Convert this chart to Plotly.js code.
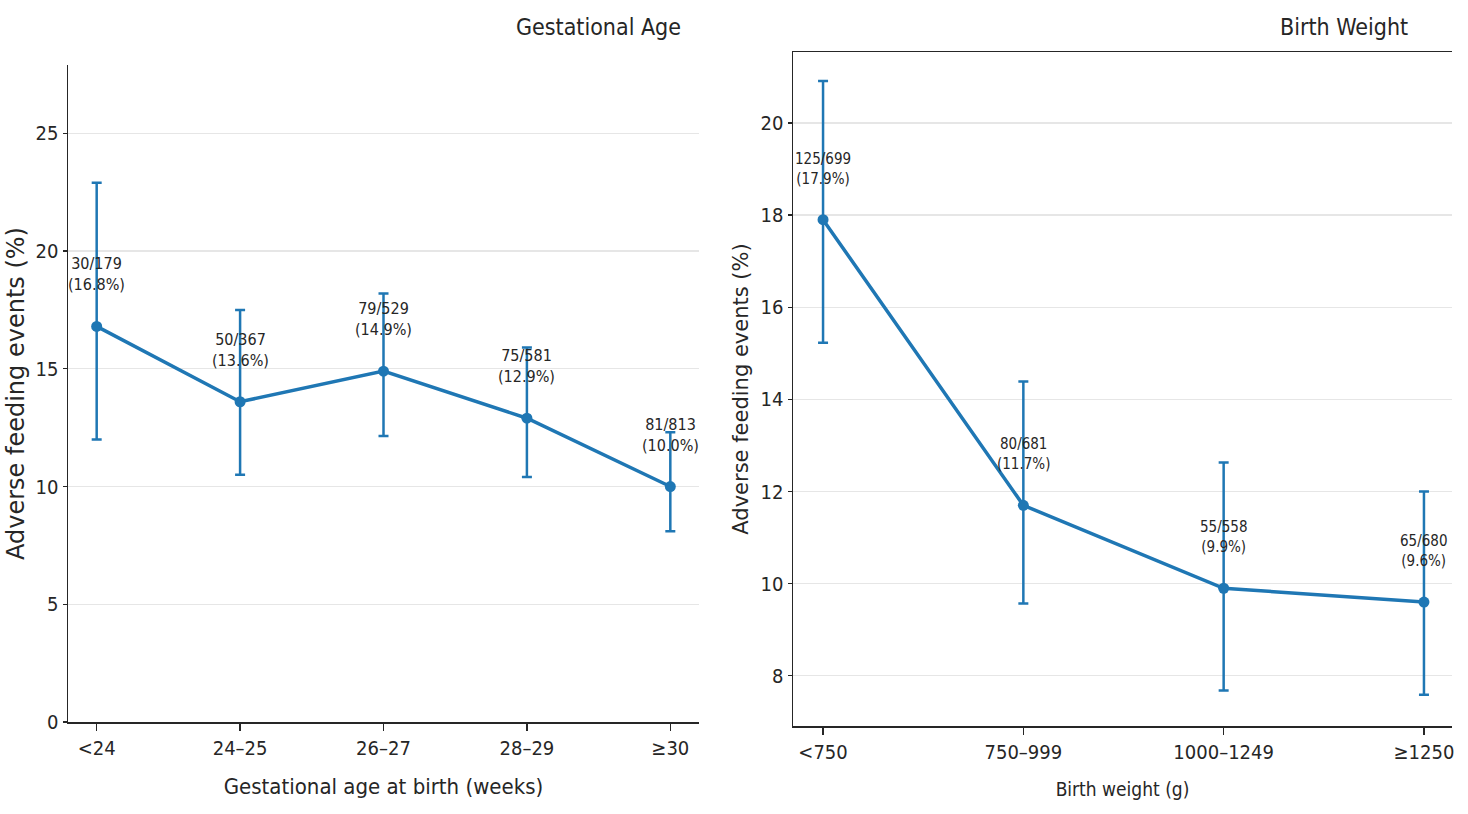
<!DOCTYPE html>
<html>
<head>
<meta charset="utf-8">
<script src="https://cdn.plot.ly/plotly-3.0.1.min.js"></script>
<style>
  html, body { margin: 0; padding: 0; background: #fff; }
  #chart { width: 1468px; height: 814px; }
</style>
</head>
<body>
<div id="chart"></div>
<script>
  // Adverse feeding events by gestational age and by birth weight.
  // Values.

  const GA_CATS = ["<24", "24–25", "26–27", "28–29", "≥30"];
  const GA_EVENTS = [30, 50, 79, 75, 81];
  const GA_TOTALS = [179, 367, 529, 581, 813];
  const GA_PCT = [16.8, 13.6, 14.9, 12.9, 10.0];
  const GA_LOW = [12.0, 10.5, 12.15, 10.4, 8.1];
  const GA_HIGH = [22.9, 17.5, 18.2, 15.9, 12.3];

  const BW_CATS = ["<750", "750–999", "1000–1249", "≥1250"];
  const BW_EVENTS = [125, 80, 55, 65];
  const BW_TOTALS = [699, 681, 558, 680];
  const BW_PCT = [17.9, 11.7, 9.9, 9.6];
  const BW_LOW = [15.23, 9.57, 7.68, 7.59];
  const BW_HIGH = [20.91, 14.39, 12.63, 12.0];

  const BLUE = "#1f77b4";
  const INK = "#262626";
  const GRID = "#e6e6e6";
  const NARROW = "Liberation Sans Narrow, DejaVu Sans Condensed, sans-serif";
  const WIDE = "DejaVu Sans, sans-serif";

  function seriesTrace(cats, pct, low, high, xa, ya) {
    return {
      x: cats,
      y: pct,
      xaxis: xa,
      yaxis: ya,
      type: "scatter",
      mode: "lines+markers",
      line: { color: BLUE, width: 3.5 },
      marker: { color: BLUE, size: 11 },
      error_y: {
        type: "data",
        symmetric: false,
        array: pct.map((v, i) => high[i] - v),
        arrayminus: pct.map((v, i) => v - low[i]),
        color: BLUE,
        thickness: 2.5,
        width: 5,
      },
      hoverinfo: "skip",
    };
  }

  // n/N (pct%) label above every point
  function pointLabels(cats, events, totals, pct, xa, ya, size) {
    return cats.map((c, i) => ({
      x: c,
      y: pct[i],
      xref: xa,
      yref: ya,
      text: events[i] + "/" + totals[i] + "<br>(" + pct[i].toFixed(1) + "%)",
      showarrow: false,
      yanchor: "bottom",
      yshift: 30,
      font: { family: NARROW, size: size, color: INK },
    }));
  }

  function catAxis(domain, range, titleText, titleSize, standoff) {
    return {
      domain: domain,
      type: "category",
      range: range,
      showline: true,
      linecolor: INK,
      linewidth: 1.5,
      ticks: "outside",
      ticklen: 7,
      tickwidth: 1.2,
      tickcolor: INK,
      showgrid: false,
      zeroline: false,
      tickfont: { family: NARROW, size: 20, color: INK },
      title: { text: titleText, font: { family: NARROW, size: titleSize, color: INK }, standoff: standoff },
      automargin: false,
      fixedrange: true,
    };
  }

  function valueAxis(domain, range, dtick, anchor, titleSize, standoff) {
    return {
      domain: domain,
      anchor: anchor,
      range: range,
      tick0: 0,
      dtick: dtick,
      showline: true,
      linecolor: INK,
      linewidth: 1.5,
      ticks: "outside",
      ticklen: 4,
      tickwidth: 1.2,
      tickcolor: INK,
      showgrid: true,
      gridcolor: GRID,
      gridwidth: 1.2,
      zeroline: false,
      tickfont: { family: NARROW, size: 20, color: INK },
      title: {
        text: "Adverse feeding events (%)",
        font: { family: WIDE, size: titleSize, color: INK },
        standoff: standoff,
      },
      automargin: false,
      fixedrange: true,
    };
  }

  const traces = [
    seriesTrace(GA_CATS, GA_PCT, GA_LOW, GA_HIGH, "x", "y"),
    seriesTrace(BW_CATS, BW_PCT, BW_LOW, BW_HIGH, "x2", "y2"),
  ];

  const xLeft = catAxis([68 / 1468, 699 / 1468], [-0.2, 4.2], "Gestational age at birth (weeks)", 22, 20);
  xLeft.anchor = "y";
  const xRight = catAxis([793 / 1468, 1452 / 1468], [-0.15, 3.14], "Birth weight (g)", 19, 20);
  xRight.anchor = "y2";
  xRight.mirror = true; // the right panel keeps its top spine

  const yLeft = valueAxis([92 / 814, 749 / 814], [0, 27.9], 5, "x", 24, 4);
  const yRight = valueAxis([88 / 814, 762 / 814], [6.91, 21.54], 2, "x2", 21, 6);

  const annotations = []
    .concat(pointLabels(GA_CATS, GA_EVENTS, GA_TOTALS, GA_PCT, "x", "y", 16))
    .concat(pointLabels(BW_CATS, BW_EVENTS, BW_TOTALS, BW_PCT, "x2", "y2", 15))
    .concat([
      {
        text: "Gestational Age", xref: "paper", yref: "paper",
        x: 683 / 1468, y: 1 - 27 / 814, xanchor: "right", yanchor: "middle",
        showarrow: false, font: { family: NARROW, size: 23, color: INK },
      },
      {
        text: "Birth Weight", xref: "paper", yref: "paper",
        x: 1410 / 1468, y: 1 - 27 / 814, xanchor: "right", yanchor: "middle",
        showarrow: false, font: { family: NARROW, size: 23, color: INK },
      },
    ]);

  const layout = {
    width: 1468,
    height: 814,
    margin: { l: 0, r: 0, t: 0, b: 0 },
    paper_bgcolor: "#fff",
    plot_bgcolor: "#fff",
    showlegend: false,
    xaxis: xLeft,
    yaxis: yLeft,
    xaxis2: xRight,
    yaxis2: yRight,
    annotations: annotations,
  };

  Plotly.newPlot("chart", traces, layout, { displayModeBar: false, staticPlot: true });
</script>
</body>
</html>
